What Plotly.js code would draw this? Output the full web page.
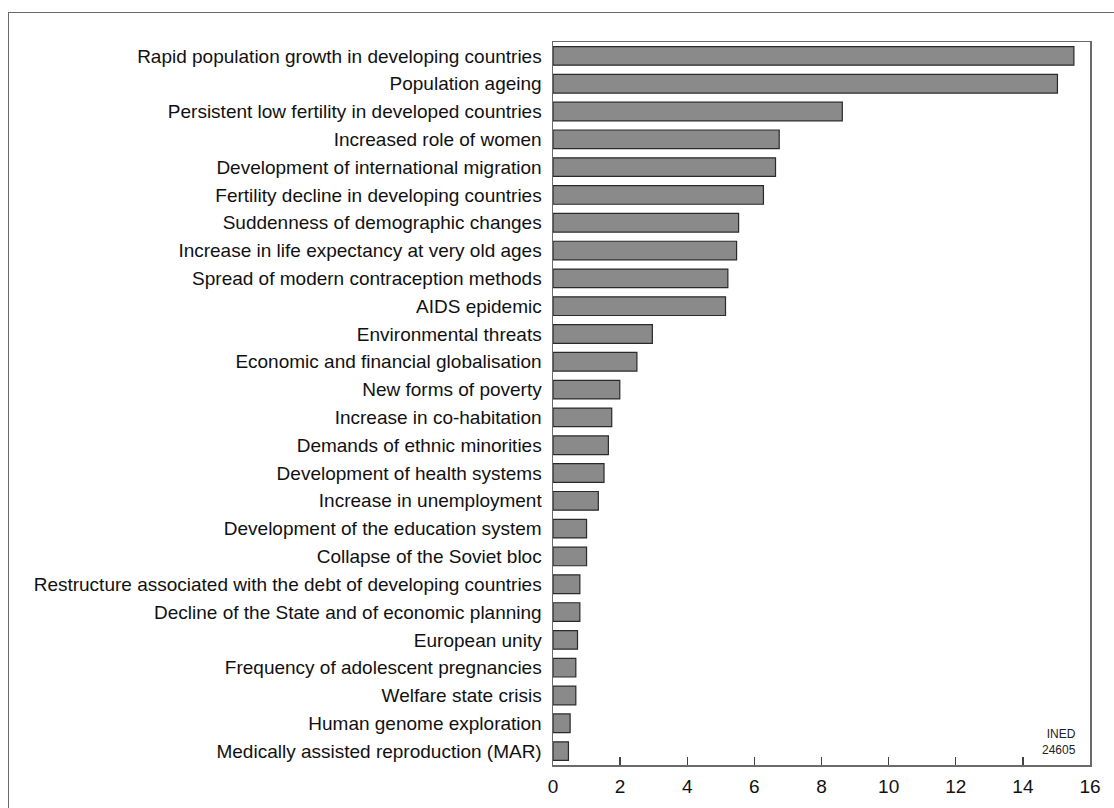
<!DOCTYPE html>
<html>
<head>
<meta charset="utf-8">
<script src="https://cdn.plot.ly/plotly-3.0.1.min.js"></script>
<style>
  html, body { margin: 0; padding: 0; background: #fff; }
  #wrap { position: relative; width: 1114px; height: 808px; }
  #chart { width: 1114px; height: 808px; }
  #frame { position: absolute; left: 8px; top: 12px; width: 1110px; height: 800px;
           border-top: 1.5px solid #6a6a6a; border-left: 1.5px solid #6a6a6a; pointer-events: none; }
</style>
</head>
<body>
<div id="wrap">
  <div id="chart"></div>
  <div id="frame"></div>
</div>
<script>
const categories = [
  "Rapid population growth in developing countries",
  "Population ageing",
  "Persistent low fertility in developed countries",
  "Increased role of women",
  "Development of international migration",
  "Fertility decline in developing countries",
  "Suddenness of demographic changes",
  "Increase in life expectancy at very old ages",
  "Spread of modern contraception methods",
  "AIDS epidemic",
  "Environmental threats",
  "Economic and financial globalisation",
  "New forms of poverty",
  "Increase in co-habitation",
  "Demands of ethnic minorities",
  "Development of health systems",
  "Increase in unemployment",
  "Development of the education system",
  "Collapse of the Soviet bloc",
  "Restructure associated with the debt of developing countries",
  "Decline of the State and of economic planning",
  "European unity",
  "Frequency of adolescent pregnancies",
  "Welfare state crisis",
  "Human genome exploration",
  "Medically assisted reproduction (MAR)"
];
const values = [
  15.52, 15.03, 8.62, 6.74, 6.63, 6.27, 5.53, 5.47, 5.21, 5.14,
  2.96, 2.50, 1.99, 1.75, 1.65, 1.52, 1.35, 1.00, 1.00, 0.80,
  0.80, 0.73, 0.68, 0.68, 0.51, 0.46
];
const xTicks = [0, 2, 4, 6, 8, 10, 12, 14, 16];
const sourceNote = "INED<br>24605";

const trace = {
  type: "bar",
  orientation: "h",
  x: values,
  y: categories,
  marker: { color: "#8a8a8a", line: { color: "#2a2a2a", width: 1.2 } },
  hoverinfo: "x+y"
};

const layout = {
  width: 1114,
  height: 808,
  margin: { l: 553, r: 24, t: 42, b: 43 },
  paper_bgcolor: "#ffffff",
  plot_bgcolor: "#ffffff",
  font: { family: "Liberation Sans, Arial, sans-serif", color: "#111111", size: 19 },
  bargap: 0.33,
  showlegend: false,
  xaxis: {
    range: [0, 16],
    tickvals: xTicks,
    ticktext: xTicks.map(String),
    ticks: "inside",
    ticklen: 8,
    tickwidth: 1.3,
    tickcolor: "#444444",
    showgrid: false,
    zeroline: false,
    showline: true,
    linecolor: "#6a6a6a",
    linewidth: 1.5,
    mirror: true,
    ticklabelstandoff: 4,
    tickfont: { size: 19, family: "Liberation Sans, Arial, sans-serif", color: "#111111" },
    fixedrange: true
  },
  yaxis: {
    type: "category",
    autorange: "reversed",
    ticks: "",
    showgrid: false,
    zeroline: false,
    showline: true,
    linecolor: "#6a6a6a",
    linewidth: 1.5,
    mirror: true,
    ticklabelstandoff: 6,
    tickfont: { size: 19, family: "Liberation Sans, Arial, sans-serif", color: "#111111" },
    fixedrange: true
  },
  annotations: [{
    xref: "paper", yref: "paper",
    x: 1, y: 0,
    xanchor: "right", yanchor: "bottom",
    xshift: -12, yshift: 6,
    align: "right",
    showarrow: false,
    text: sourceNote,
    font: { family: "Liberation Sans Narrow, Arial Narrow, Liberation Sans, sans-serif", size: 12, color: "#222222" }
  }]
};

Plotly.newPlot("chart", [trace], layout, { displayModeBar: false, staticPlot: true });
</script>
</body>
</html>
